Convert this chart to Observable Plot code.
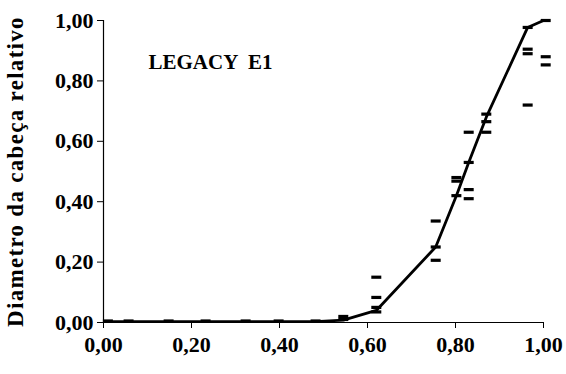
<!DOCTYPE html>
<html>
<head>
<meta charset="utf-8">
<script src="https://cdn.jsdelivr.net/npm/d3@7"></script>
<script src="https://cdn.jsdelivr.net/npm/@observablehq/plot@0.6"></script>
<style>
  html, body { margin: 0; padding: 0; background: #fff; }
  #chart { width: 566px; height: 374px; }
</style>
</head>
<body>
<div id="chart"></div>
<script>
// Mean relative head diameter along the relative position (line)
const meanX = [0.01, 0.057, 0.148, 0.232, 0.323, 0.398, 0.482, 0.545, 0.62, 0.755, 0.802, 0.83, 0.87, 0.964, 1.00];
const meanY = [0.003, 0.003, 0.003, 0.003, 0.003, 0.003, 0.003, 0.008, 0.04, 0.25, 0.42, 0.53, 0.68, 0.977, 1.00];

// Individual observations (short dashes)
const obsX = [0.01, 0.057, 0.148, 0.232, 0.323, 0.398, 0.482,
              0.545, 0.545,
              0.62, 0.62, 0.62, 0.62,
              0.755, 0.755, 0.755,
              0.802, 0.802, 0.802,
              0.83, 0.83, 0.83, 0.83,
              0.87, 0.87, 0.87,
              0.964, 0.964, 0.964, 0.964,
              1.005, 1.005, 1.005];
const obsY = [0.005, 0.005, 0.005, 0.005, 0.005, 0.005, 0.005,
              0.02, 0.01,
              0.15, 0.083, 0.05, 0.035,
              0.336, 0.25, 0.206,
              0.48, 0.468, 0.42,
              0.63, 0.53, 0.44, 0.41,
              0.69, 0.665, 0.63,
              0.977, 0.905, 0.89, 0.72,
              1.00, 0.88, 0.853];

// Axis ticks
const ticks = [0, 0.2, 0.4, 0.6, 0.8, 1.0];
const fmt = d => d.toFixed(2).replace(".", ",");

const title = "LEGACY  E1";
const yLabel = "Diametro da cabeça relativo";

const means = meanX.map((x, i) => ({x, y: meanY[i]}));
const obs = obsX.map((x, i) => ({x, y: obsY[i]}));

const serif = "Liberation Serif";

// Flat horizontal dash used as the observation marker
const dash = {
  draw(context) {
    context.moveTo(-5, -1.6);
    context.lineTo(5, -1.6);
    context.lineTo(5, 1.6);
    context.lineTo(-5, 1.6);
    context.closePath();
  }
};

const chart = Plot.plot({
  width: 566,
  height: 374,
  marginLeft: 103,
  marginRight: 23,
  marginTop: 20,
  marginBottom: 52,
  style: {background: "#fff", color: "#000"},
  x: {domain: [0, 1]},
  y: {domain: [0, 1]},
  marks: [
    Plot.axisX({ticks, tickFormat: fmt, tickSize: 6, tickPadding: 8, label: null}),
    Plot.axisY({ticks, tickFormat: fmt, tickSize: 6, tickPadding: 4,
      label: yLabel, labelAnchor: "center", labelArrow: "none", labelOffset: 97}),
    Plot.ruleX([0], {stroke: "#000", strokeWidth: 1.2}),
    Plot.ruleY([0], {stroke: "#000", strokeWidth: 1.2}),
    Plot.line(means, {x: "x", y: "y", stroke: "#000", strokeWidth: 2.8}),
    Plot.dot(obs, {x: "x", y: "y", symbol: dash, fill: "#000", stroke: null, r: 5}),
    Plot.text([title], {frameAnchor: "top-left", dx: 45, dy: 34, text: d => d,
      fontSize: 21, textAnchor: "start", lineAnchor: "top"})
  ]
});

// Bold serif type on every label
const svg = d3.select(chart);
svg.attr("font-family", serif).attr("font-weight", "bold");
svg.selectAll("text")
  .attr("font-family", serif)
  .attr("font-weight", "bold")
  .attr("font-variant", "normal");
svg.selectAll("g[aria-label='x-axis tick label'], g[aria-label='y-axis tick label']")
  .attr("font-size", 22);
svg.selectAll("g[aria-label='y-axis label']")
  .attr("font-size", 23)
  .attr("letter-spacing", "1.3px");

document.getElementById("chart").appendChild(chart);
</script>
</body>
</html>
